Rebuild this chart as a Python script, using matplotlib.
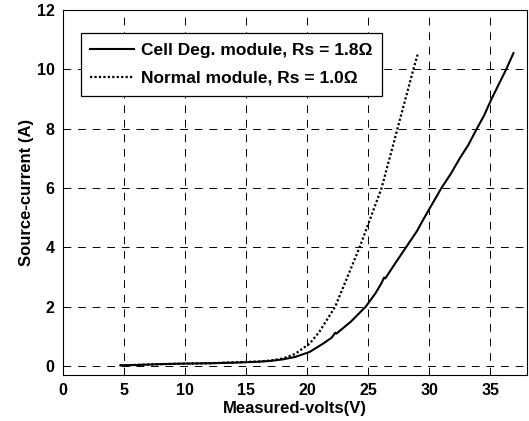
import matplotlib
matplotlib.use("Agg")
import matplotlib.pyplot as plt

# Readings (volts, amps)
deg_volts = [4.7, 6, 8, 10, 12, 14, 16, 17, 18, 19, 20.2, 21.3, 22.0, 22.3, 22.4,
             23.6, 24.8, 25.6, 26.1, 26.3, 26.4, 27.2, 28.1, 29.0, 29.6, 30.3, 31.0,
             31.8, 32.5, 33.2, 33.9, 34.5, 35.1, 35.7, 36.3, 36.9]
deg_amps = [0.02, 0.03, 0.06, 0.08, 0.09, 0.11, 0.14, 0.17, 0.22, 0.3, 0.47,
            0.75, 0.95, 1.12, 1.09, 1.5, 2.0, 2.45, 2.8, 2.98, 2.95, 3.45, 4.0, 4.55,
            5.0, 5.5, 6.0, 6.5, 7.0, 7.45, 8.0, 8.45, 9.0, 9.5, 10.0, 10.55]

norm_volts = [4.7, 8, 12, 16, 17, 18, 19, 20.2, 21, 22.3, 23.3, 24.3, 25.2,
              26.1, 27.4, 28.7, 29.05]
norm_amps = [0.02, 0.06, 0.09, 0.15, 0.18, 0.25, 0.4, 0.75, 1.15, 2.0, 3.0,
             4.0, 5.0, 6.0, 8.0, 10.0, 10.5]

labels = ["Cell Deg. module, Rs = 1.8\u03a9", "Normal module, Rs = 1.0\u03a9"]
x_ticks = [0, 5, 10, 15, 20, 25, 30, 35]
y_ticks = [0, 2, 4, 6, 8, 10, 12]

plt.rcParams['font.family'] = ['Liberation Sans', 'DejaVu Sans']
plt.rcParams['font.weight'] = 'bold'

fig = plt.figure(figsize=(5.29, 4.21), dpi=100)
ax = fig.add_axes([0.119, 0.109, 0.877, 0.867])

ax.plot(deg_volts, deg_amps, color='black', linestyle='-', linewidth=1.5, label=labels[0])
ax.plot(norm_volts, norm_amps, color='black', linestyle=(0, (1, 1)), linewidth=1.6,
        label=labels[1])

ax.set_xlim(0, 38)
ax.set_ylim(-0.31, 12)
ax.set_xticks(x_ticks)
ax.set_yticks(y_ticks)
ax.tick_params(direction='in', labelsize=11.5, length=0, pad=6)
for lab in ax.get_xticklabels() + ax.get_yticklabels():
    lab.set_fontweight('bold')

ax.grid(True, color='black', linestyle=(0, (8, 7)), linewidth=0.7)
ax.set_xlabel("Measured-volts(V)", fontsize=12, fontweight='bold', labelpad=2)
ax.set_ylabel("Source-current (A)", fontsize=12, fontweight='bold', labelpad=2)

leg = ax.legend(loc='upper left', bbox_to_anchor=(0.038, 0.937), borderaxespad=0,
                fancybox=False, framealpha=1, edgecolor='black',
                handlelength=2.5, handletextpad=0.45, borderpad=0.55,
                labelspacing=0.75, prop={'weight': 'bold', 'size': 12.5})
leg.get_frame().set_linewidth(0.9)

fig.savefig("out.png", dpi=100)
